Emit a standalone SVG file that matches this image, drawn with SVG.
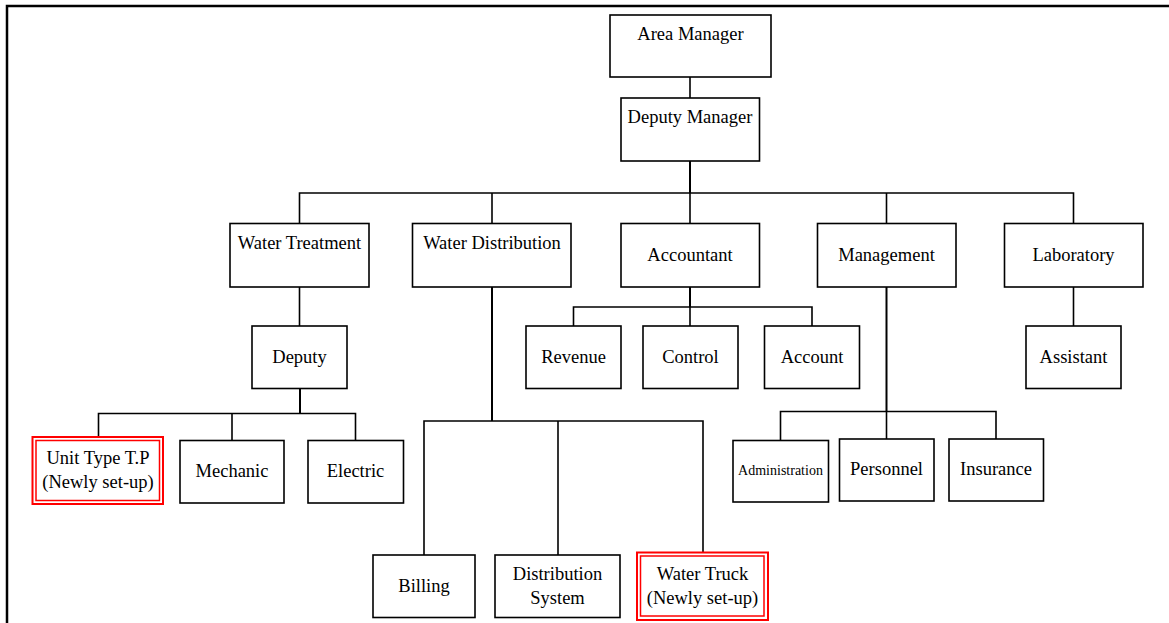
<svg xmlns="http://www.w3.org/2000/svg" width="1169" height="623" viewBox="0 0 1169 623">
  <style>
    .box { fill: #fff; stroke: #000; stroke-width: 1.6; }
    .red-out { fill: #fff; stroke: #ff0000; stroke-width: 2; }
    .red-in { fill: none; stroke: #ff0000; stroke-width: 1.5; }
    .lbl { font-family: "Liberation Serif", "Times New Roman", serif; font-size: 18.5px; fill: #000; text-anchor: middle; }
    .small { font-size: 14px; }
    .wire { fill: none; stroke: #000; stroke-width: 1.6; }
    .trunk { stroke-width: 2; }
    .frame { fill: none; stroke: #000; stroke-width: 2.5; }
  </style>

  <!-- page frame: top and left rules -->
  <path class="frame" d="M7,623 V6 H1169"/>

  <!-- connectors -->
  <g id="connectors">
    <path class="wire" d="M690,77 V98"/>
    <path class="wire trunk" d="M690,161 V193"/>
    <path class="wire" d="M299.5,223 V193 H1073.5 V223"/>
    <path class="wire" d="M492,193 V223"/>
    <path class="wire" d="M690,193 V223"/>
    <path class="wire" d="M886.5,193 V223"/>

    <!-- Water Treatment branch -->
    <path class="wire" d="M299.5,287 V326"/>
    <path class="wire trunk" d="M300,388 V413.5"/>
    <path class="wire" d="M98.5,437 V413.5 H355.5 V440"/>
    <path class="wire" d="M232,413.5 V440"/>

    <!-- Water Distribution branch -->
    <path class="wire trunk" d="M492,287 V421"/>
    <path class="wire" d="M424,555 V421 H703 V552"/>
    <path class="wire" d="M558,421 V555"/>

    <!-- Accountant branch -->
    <path class="wire trunk" d="M690,287 V307"/>
    <path class="wire" d="M573.5,326 V307 H812 V326"/>
    <path class="wire" d="M690,307 V326"/>

    <!-- Management branch -->
    <path class="wire trunk" d="M886.5,287 V411.5"/>
    <path class="wire" d="M780.5,440 V411.5 H996 V439"/>
    <path class="wire" d="M886.5,411.5 V439"/>

    <!-- Laboratory branch -->
    <path class="wire" d="M1073.5,287 V326"/>
  </g>

  <!-- level 0 / 1 -->
  <g id="area-manager">
    <rect class="box" x="610" y="15" width="161" height="62"/>
    <text class="lbl" x="690.5" y="40">Area Manager</text>
  </g>
  <g id="deputy-manager">
    <rect class="box" x="621" y="98" width="138.5" height="63"/>
    <text class="lbl" x="690" y="123">Deputy Manager</text>
  </g>

  <!-- departments -->
  <g id="water-treatment">
    <rect class="box" x="230" y="223.5" width="139" height="63.5"/>
    <text class="lbl" x="299.5" y="248.5">Water Treatment</text>
  </g>
  <g id="water-distribution">
    <rect class="box" x="412.5" y="223.5" width="158.5" height="63.5"/>
    <text class="lbl" x="492" y="248.5">Water Distribution</text>
  </g>
  <g id="accountant">
    <rect class="box" x="621" y="223.5" width="138.5" height="63.5"/>
    <text class="lbl" x="690" y="261">Accountant</text>
  </g>
  <g id="management">
    <rect class="box" x="817.5" y="223.5" width="138.5" height="63.5"/>
    <text class="lbl" x="886.5" y="261">Management</text>
  </g>
  <g id="laboratory">
    <rect class="box" x="1004.5" y="223.5" width="138.5" height="63.5"/>
    <text class="lbl" x="1073.5" y="261">Laboratory</text>
  </g>

  <!-- second level -->
  <g id="deputy">
    <rect class="box" x="252" y="326" width="95" height="62.5"/>
    <text class="lbl" x="299.5" y="363">Deputy</text>
  </g>
  <g id="revenue">
    <rect class="box" x="526" y="326" width="95" height="62.5"/>
    <text class="lbl" x="573.5" y="363">Revenue</text>
  </g>
  <g id="control">
    <rect class="box" x="643" y="326" width="95" height="62.5"/>
    <text class="lbl" x="690.5" y="363">Control</text>
  </g>
  <g id="account">
    <rect class="box" x="764.5" y="326" width="95" height="62.5"/>
    <text class="lbl" x="812" y="363">Account</text>
  </g>
  <g id="assistant">
    <rect class="box" x="1026" y="326" width="95" height="62.5"/>
    <text class="lbl" x="1073.5" y="363">Assistant</text>
  </g>

  <!-- Water Treatment units -->
  <g id="unit-type-tp">
    <rect class="red-out" x="32.5" y="437" width="130.5" height="67"/>
    <rect class="red-in" x="36" y="440.5" width="123.5" height="60"/>
    <text class="lbl" x="98" y="464">Unit Type T.P</text>
    <text class="lbl" x="98" y="488">(Newly set-up)</text>
  </g>
  <g id="mechanic">
    <rect class="box" x="180" y="440.5" width="104" height="62.5"/>
    <text class="lbl" x="232" y="477">Mechanic</text>
  </g>
  <g id="electric">
    <rect class="box" x="308" y="440.5" width="95.5" height="62.5"/>
    <text class="lbl" x="355.5" y="477">Electric</text>
  </g>

  <!-- Management units -->
  <g id="administration">
    <rect class="box" x="733" y="440.5" width="95.5" height="61.5"/>
    <text class="lbl small" x="780.5" y="475">Administration</text>
  </g>
  <g id="personnel">
    <rect class="box" x="839.5" y="439" width="94.5" height="62"/>
    <text class="lbl" x="886.5" y="475">Personnel</text>
  </g>
  <g id="insurance">
    <rect class="box" x="949" y="439" width="94.5" height="62"/>
    <text class="lbl" x="996" y="475">Insurance</text>
  </g>

  <!-- Water Distribution units -->
  <g id="billing">
    <rect class="box" x="373" y="555" width="102" height="62.5"/>
    <text class="lbl" x="424" y="592">Billing</text>
  </g>
  <g id="distribution-system">
    <rect class="box" x="495" y="555" width="125" height="62.5"/>
    <text class="lbl" x="557.5" y="579.5">Distribution</text>
    <text class="lbl" x="557.5" y="603.5">System</text>
  </g>
  <g id="water-truck">
    <rect class="red-out" x="637" y="552.5" width="131" height="67.5"/>
    <rect class="red-in" x="640.5" y="556" width="123.5" height="60"/>
    <text class="lbl" x="702.5" y="579.5">Water Truck</text>
    <text class="lbl" x="702.5" y="603.5">(Newly set-up)</text>
  </g>
</svg>
